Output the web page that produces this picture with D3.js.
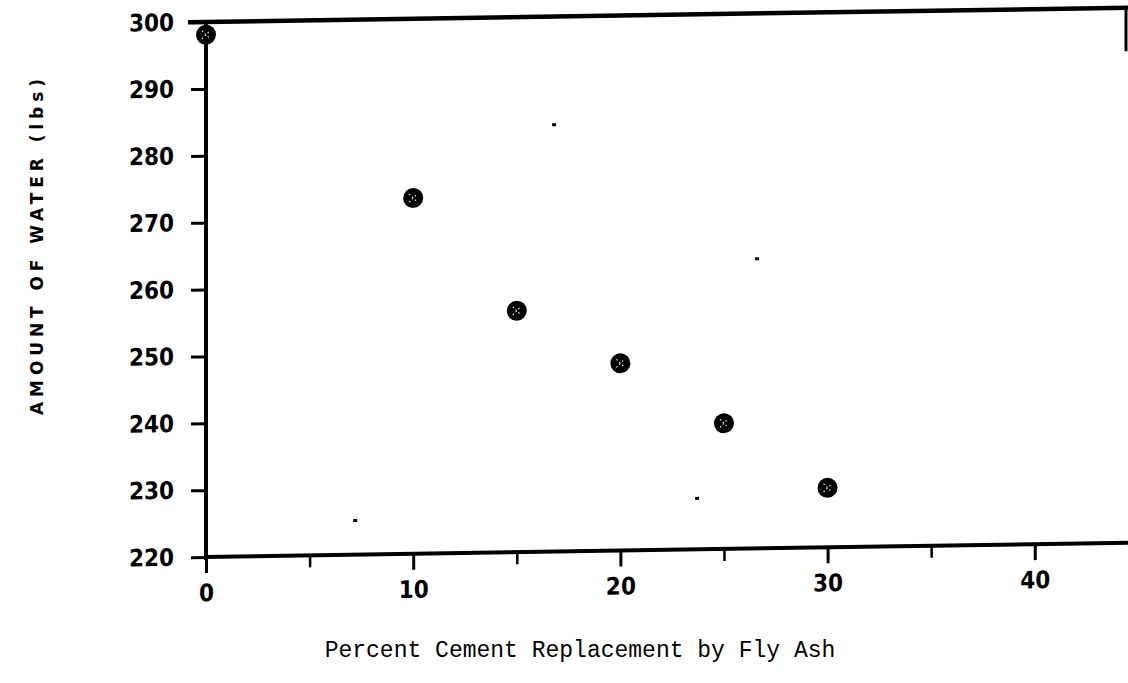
<!DOCTYPE html>
<html>
<head>
<meta charset="utf-8">
<script src="https://cdn.jsdelivr.net/npm/d3@7"></script>
<style>
  body { margin: 0; background: #fff; }
  svg { display: block; }
</style>
</head>
<body>
<div id="chart"></div>
<script>
// Data
const replacement = [0, 10, 15, 20, 25, 30];          // % fly ash
const water = [298.1, 273.2, 256.1, 248.0, 238.8, 228.9]; // lbs
const xTicks = [0, 10, 20, 30, 40];
const xMinorTicks = [5, 15, 25, 35];
const yTicks = [220, 230, 240, 250, 260, 270, 280, 290, 300];
// stray specks from the scan
const speckX = [16.8, 26.6, 7.2, 23.7];
const speckY = [283.9, 263.4, 225.2, 227.7];

const width = 1128;
const height = 683;
const margin = { top: 22, right: 0, bottom: 126, left: 206 };
const innerW = width - margin.left - margin.right;
const innerH = height - margin.top - margin.bottom;

const svg = d3.select('#chart')
    .append('svg')
    .attr('width', width)
    .attr('height', height);

const x = d3.scaleLinear().domain([0, 44.5]).range([0, innerW]);
const y = d3.scaleLinear().domain([220, 300]).range([innerH, 0]);

// the scan is slightly sheared, so the whole plot gets a small skew
const g = svg.append('g')
    .attr('transform', `translate(${margin.left},${margin.top}) skewY(-0.89)`);

const tickFont = '"DejaVu Sans Condensed", "DejaVu Sans", sans-serif';

// y axis
const yAxis = d3.axisLeft(y)
    .tickValues(yTicks)
    .tickSize(15)
    .tickPadding(17)
    .tickFormat(d3.format('d'));

g.append('g')
    .call(yAxis)
    .call(a => a.select('.domain').remove())
    .call(a => a.selectAll('line').attr('stroke', '#000').attr('stroke-width', 3))
    .call(a => a.selectAll('text')
        .attr('fill', '#000')
        .style('font-family', tickFont)
        .style('font-weight', 'bold')
        .style('font-size', '24px'));

// x axis
const xAxis = d3.axisBottom(x)
    .tickValues(xTicks)
    .tickSize(16)
    .tickPadding(11)
    .tickFormat(d3.format('d'));

g.append('g')
    .attr('transform', `translate(0,${innerH})`)
    .call(xAxis)
    .call(a => a.select('.domain').remove())
    .call(a => a.selectAll('line').attr('stroke', '#000').attr('stroke-width', 3))
    .call(a => a.selectAll('text')
        .attr('fill', '#000')
        .style('font-family', tickFont)
        .style('font-weight', 'bold')
        .style('font-size', '24px'));

g.append('g')
    .attr('transform', `translate(0,${innerH})`)
    .call(d3.axisBottom(x).tickValues(xMinorTicks).tickSize(12).tickFormat(''))
    .call(a => a.select('.domain').remove())
    .call(a => a.selectAll('line').attr('stroke', '#000').attr('stroke-width', 2.5));

// frame: left, bottom, top, short bit of right edge
g.append('line')
    .attr('x1', x(0)).attr('x2', x(0))
    .attr('y1', y(300)).attr('y2', y(220) + 3)
    .attr('stroke', '#000').attr('stroke-width', 4);
g.append('line')
    .attr('x1', x(0) - 2).attr('x2', innerW)
    .attr('y1', y(220)).attr('y2', y(220))
    .attr('stroke', '#000').attr('stroke-width', 4);
g.append('line')
    .attr('x1', x(0) - 18).attr('x2', innerW)
    .attr('y1', y(300)).attr('y2', y(300))
    .attr('stroke', '#000').attr('stroke-width', 4.5);
g.append('line')
    .attr('x1', innerW - 2).attr('x2', innerW - 2)
    .attr('y1', y(300)).attr('y2', y(293.5))
    .attr('stroke', '#000').attr('stroke-width', 3);

// specks
g.append('g')
    .selectAll('rect')
    .data(speckX.map((d, i) => [d, speckY[i]]))
    .enter()
    .append('rect')
    .attr('x', d => x(d[0]) - 2)
    .attr('y', d => y(d[1]) - 1)
    .attr('width', 4)
    .attr('height', 3)
    .attr('fill', '#000');

// points: filled circles with a faint cross
const pts = g.append('g')
    .selectAll('g')
    .data(replacement.map((d, i) => [d, water[i]]))
    .enter()
    .append('g')
    .attr('transform', d => `translate(${x(d[0])},${y(d[1])})`);

pts.append('circle')
    .attr('r', 10)
    .attr('fill', '#000');

pts.append('path')
    .attr('d', 'M-4,-4L4,4M-4,4L4,-4')
    .attr('stroke', '#fff')
    .attr('stroke-width', 1.1)
    .attr('stroke-dasharray', '1.5,2.5');

// axis titles
svg.append('text')
    .attr('transform', 'translate(43,247) rotate(-90)')
    .attr('text-anchor', 'middle')
    .attr('textLength', 336)
    .attr('lengthAdjust', 'spacing')
    .style('font-family', '"DejaVu Sans", sans-serif')
    .style('font-weight', 'bold')
    .style('font-size', '17px')
    .text('AMOUNT OF WATER (lbs)');

svg.append('text')
    .attr('x', 580)
    .attr('y', 657)
    .attr('text-anchor', 'middle')
    .style('font-family', '"Liberation Mono", "Courier New", monospace')
    .style('font-size', '23px')
    .text('Percent Cement Replacement by Fly Ash');
</script>
</body>
</html>
